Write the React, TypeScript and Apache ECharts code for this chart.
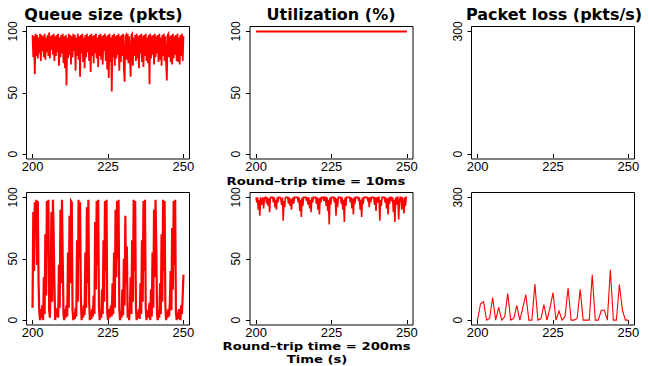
import React, { useEffect, useRef } from 'react';
import * as echarts from 'echarts';

// ---- tick labels / texts ----
const xTicks = [200, 225, 250];
const pctTicks = [0, 50, 100];
const lossTicks = [0, 300];
const panelTitles = ['Queue size (pkts)', 'Utilization (%)', 'Packet loss (pkts/s)'];
const rowLabels = ['Round–trip time = 10ms', 'Round–trip time = 200ms'];
const xTitle = 'Time (s)';

// ---- sampling of the series (time, s) ----
const fineStart = 200;
const fineStep = 0.25;
const coarseStart = 200;
const coarseStep = 1;

// ---- RTT = 10 ms ----
const queueRtt10 = [
  97, 79, 96, 65, 98, 80, 97, 78, 95, 82, 98, 76, 97, 84, 96, 79,
  98, 77, 95, 83, 97, 80, 99, 78, 96, 85, 97, 81, 98, 76, 96, 80,
  97, 83, 98, 72, 95, 79, 97, 82, 98, 74, 96, 70, 97, 56, 95, 78,
  98, 81, 97, 73, 96, 79, 98, 84, 97, 68, 95, 80, 98, 77, 96, 63,
  97, 82, 98, 75, 95, 70, 97, 79, 98, 83, 96, 76, 97, 67, 98, 80,
  96, 74, 97, 82, 98, 78, 95, 71, 97, 80, 98, 77, 96, 73, 97, 84,
  98, 76, 96, 69, 97, 62, 98, 75, 95, 51, 97, 79, 98, 72, 96, 78,
  97, 81, 98, 68, 96, 75, 97, 80, 98, 70, 59, 96, 97, 77, 98, 74,
  96, 79, 63, 97, 98, 72, 95, 80, 97, 76, 98, 78, 96, 70, 97, 82,
  98, 75, 96, 71, 97, 80, 98, 76, 95, 74, 97, 57, 98, 78, 96, 81,
  97, 73, 98, 79, 96, 82, 97, 75, 98, 77, 95, 72, 97, 80, 98, 76,
  96, 74, 60, 97, 98, 79, 96, 75, 97, 73, 98, 78, 96, 81, 97, 76,
  98, 75, 95, 73, 97, 80, 98, 76, 96,
];
const utilRtt10 = [
  100, 100, 100, 100, 100, 100, 100, 100, 100, 100,
  100, 100, 100, 100, 100, 100, 100, 100, 100, 100,
  100, 100, 100, 100, 100, 100, 100, 100, 100, 100,
  100, 100, 100, 100, 100, 100, 100, 100, 100, 100,
  100, 100, 100, 100, 100, 100, 100, 100, 100, 100,
  100,
];
const lossRtt10: number[] = [];

// ---- RTT = 200 ms ----
const queueRtt200 = [
  10, 88, 40, 96, 75, 98, 45, 97, 30, 6, 0, 9, 2, 12, 0, 35,
  5, 70, 20, 97, 60, 98, 8, 2, 25, 88, 15, 98, 70, 30, 0, 8,
  3, 10, 2, 45, 10, 90, 30, 98, 50, 5, 0, 9, 2, 12, 3, 55,
  10, 85, 30, 97, 96, 8, 0, 6, 1, 10, 3, 65, 15, 98, 50, 96,
  20, 0, 8, 2, 12, 4, 55, 10, 92, 30, 98, 15, 0, 7, 1, 9,
  3, 20, 5, 80, 25, 97, 45, 98, 10, 0, 7, 2, 25, 5, 65, 15,
  97, 40, 98, 6, 0, 9, 2, 7, 12, 3, 30, 5, 55, 10, 90, 35,
  97, 50, 98, 8, 0, 7, 2, 25, 4, 50, 12, 85, 30, 60, 2, 8,
  0, 10, 35, 5, 65, 15, 98, 40, 97, 10, 0, 7, 2, 9, 1, 30,
  5, 65, 15, 97, 40, 98, 10, 0, 8, 2, 6, 14, 0, 25, 3, 55,
  10, 90, 35, 98, 60, 4, 0, 8, 2, 30, 5, 70, 15, 98, 40, 97,
  12, 0, 7, 2, 9, 3, 15, 40, 8, 75, 25, 97, 45, 98, 6, 0,
  6, 1, 9, 3, 0, 12, 5, 20, 37,
];
const utilRtt200 = [
  100, 96, 100, 90, 98, 85, 100, 94, 97, 100, 91, 99, 100, 100, 95, 100,
  93, 99, 88, 100, 100, 100, 100, 96, 100, 92, 98, 90, 100, 96, 100, 100,
  100, 98, 94, 100, 81, 97, 92, 100, 100, 100, 100, 95, 100, 93, 99, 90,
  97, 100, 95, 100, 100, 100, 100, 100, 96, 100, 89, 98, 84, 100, 93, 100,
  100, 100, 100, 97, 100, 94, 100, 91, 98, 88, 100, 96, 100, 100, 100, 100,
  95, 100, 90, 99, 86, 100, 96, 100, 100, 100, 97, 100, 100, 93, 100, 89,
  98, 78, 100, 94, 100, 100, 100, 100, 96, 100, 85, 99, 92, 100, 100, 100,
  100, 95, 100, 90, 98, 80, 100, 93, 100, 100, 100, 100, 100, 96, 100, 91,
  99, 86, 100, 95, 100, 100, 100, 100, 97, 100, 90, 98, 84, 100, 95, 100,
  100, 100, 100, 100, 98, 100, 92, 100, 96, 100, 100, 100, 100, 94, 100, 89,
  100, 96, 100, 100, 81, 98, 93, 100, 100, 100, 100, 96, 100, 91, 99, 86,
  100, 95, 100, 100, 97, 100, 88, 98, 80, 100, 94, 100, 100, 82, 97, 100,
  100, 90, 100, 95, 87, 100, 93, 100, 100,
];
const lossRtt200 = [
  0, 40, 45, 0, 4, 55, 0, 31, 0, 8, 65, 0, 4, 36, 0, 30, 62,
  0, 0, 88, 0, 3, 38, 0, 30, 67, 0, 22, 0, 9, 79, 0, 0, 4,
  75, 0, 0, 0, 111, 0, 0, 24, 24, 0, 123, 0, 0, 87, 24, 0, 0,
];

const RED = '#ff0000';
const TICK_FONT = '"Liberation Sans", Arial, Helvetica, sans-serif';
const TITLE_FONT = '"DejaVu Sans", sans-serif';

export default function App() {
  const ref = useRef<HTMLDivElement>(null);

  useEffect(() => {
    if (!ref.current) return;
    const chart = echarts.init(ref.current, undefined, { renderer: 'svg' });

    const colLeft = [26.5, 250, 471.5];
    const rowTop = [26.5, 192.5];
    const boxW = 163;
    const boxH = 132.5;

    const panels = [
      { vals: queueRtt10, start: fineStart, step: fineStep, ticks: pctTicks, lo: -4, hi: 104, w: 1.8 },
      { vals: utilRtt10, start: coarseStart, step: coarseStep, ticks: pctTicks, lo: -4, hi: 104, w: 2 },
      { vals: lossRtt10, start: coarseStart, step: coarseStep, ticks: lossTicks, lo: -12, hi: 312, w: 1 },
      { vals: queueRtt200, start: fineStart, step: fineStep, ticks: pctTicks, lo: -4, hi: 104, w: 2.2 },
      { vals: utilRtt200, start: fineStart, step: fineStep, ticks: pctTicks, lo: -4, hi: 104, w: 1.6 },
      { vals: lossRtt200, start: coarseStart, step: coarseStep, ticks: lossTicks, lo: -12, hi: 312, w: 1.1 },
    ];

    const grid = panels.map((_, i) => ({
      left: colLeft[i % 3],
      top: rowTop[Math.floor(i / 3)],
      width: boxW,
      height: boxH,
      show: true,
      borderColor: '#000',
      borderWidth: 1,
      backgroundColor: 'transparent',
      containLabel: false,
      outerBoundsMode: 'none',
    }));

    const xAxis = panels.map((_, i) => ({
      type: 'value',
      gridIndex: i,
      min: 198,
      max: 252,
      axisLine: { show: false },
      splitLine: { show: false },
      axisTick: {
        show: true,
        inside: false,
        length: 4,
        customValues: xTicks,
        lineStyle: { color: '#000', width: 1 },
      },
      axisLabel: {
        show: true,
        customValues: xTicks,
        margin: 1,
        color: '#000',
        fontSize: 13,
        fontFamily: TICK_FONT,
      },
    }));

    const yAxis = panels.map((p, i) => ({
      type: 'value',
      gridIndex: i,
      min: p.lo,
      max: p.hi,
      axisLine: { show: false },
      splitLine: { show: false },
      axisTick: {
        show: true,
        inside: false,
        length: 4,
        customValues: p.ticks,
        lineStyle: { color: '#000', width: 1 },
      },
      axisLabel: {
        show: true,
        customValues: p.ticks,
        rotate: 90,
        margin: 8,
        color: '#000',
        fontSize: 12,
        fontFamily: TICK_FONT,
      },
    }));

    const series = panels.map((p, i) => ({
      type: 'line',
      xAxisIndex: i,
      yAxisIndex: i,
      data: p.vals.map((v, k) => [p.start + k * p.step, v]),
      showSymbol: false,
      symbol: 'none',
      clip: true,
      silent: true,
      lineStyle: { color: RED, width: p.w, join: 'miter' },
      itemStyle: { color: RED },
    }));

    const txt = (text: string, x: number, y: number, size: number, sx: number) => ({
      type: 'text',
      x,
      y,
      scaleX: sx,
      silent: true,
      style: {
        text,
        fill: '#000',
        font: `bold ${size}px ${TITLE_FONT}`,
        textAlign: 'center',
        textVerticalAlign: 'middle',
        align: 'center',
        verticalAlign: 'middle',
      },
    });

    const titleX = [103.5, 331, 554];
    const graphic = [
      ...panelTitles.map((t, i) => txt(t, titleX[i], 14, 16, 1)),
      txt(rowLabels[0], 316, 181, 11, 1.2),
      txt(rowLabels[1], 316.5, 346.3, 11, 1.2),
      txt(xTitle, 317, 359.4, 11, 1.2),
    ];

    chart.setOption({
      animation: false,
      backgroundColor: '#fff',
      grid,
      xAxis,
      yAxis,
      series,
      graphic,
    } as any);

    return () => chart.dispose();
  }, []);

  return (
    <div
      ref={ref}
      style={{ position: 'fixed', left: 0, top: 0, width: 649, height: 366 }}
    />
  );
}
